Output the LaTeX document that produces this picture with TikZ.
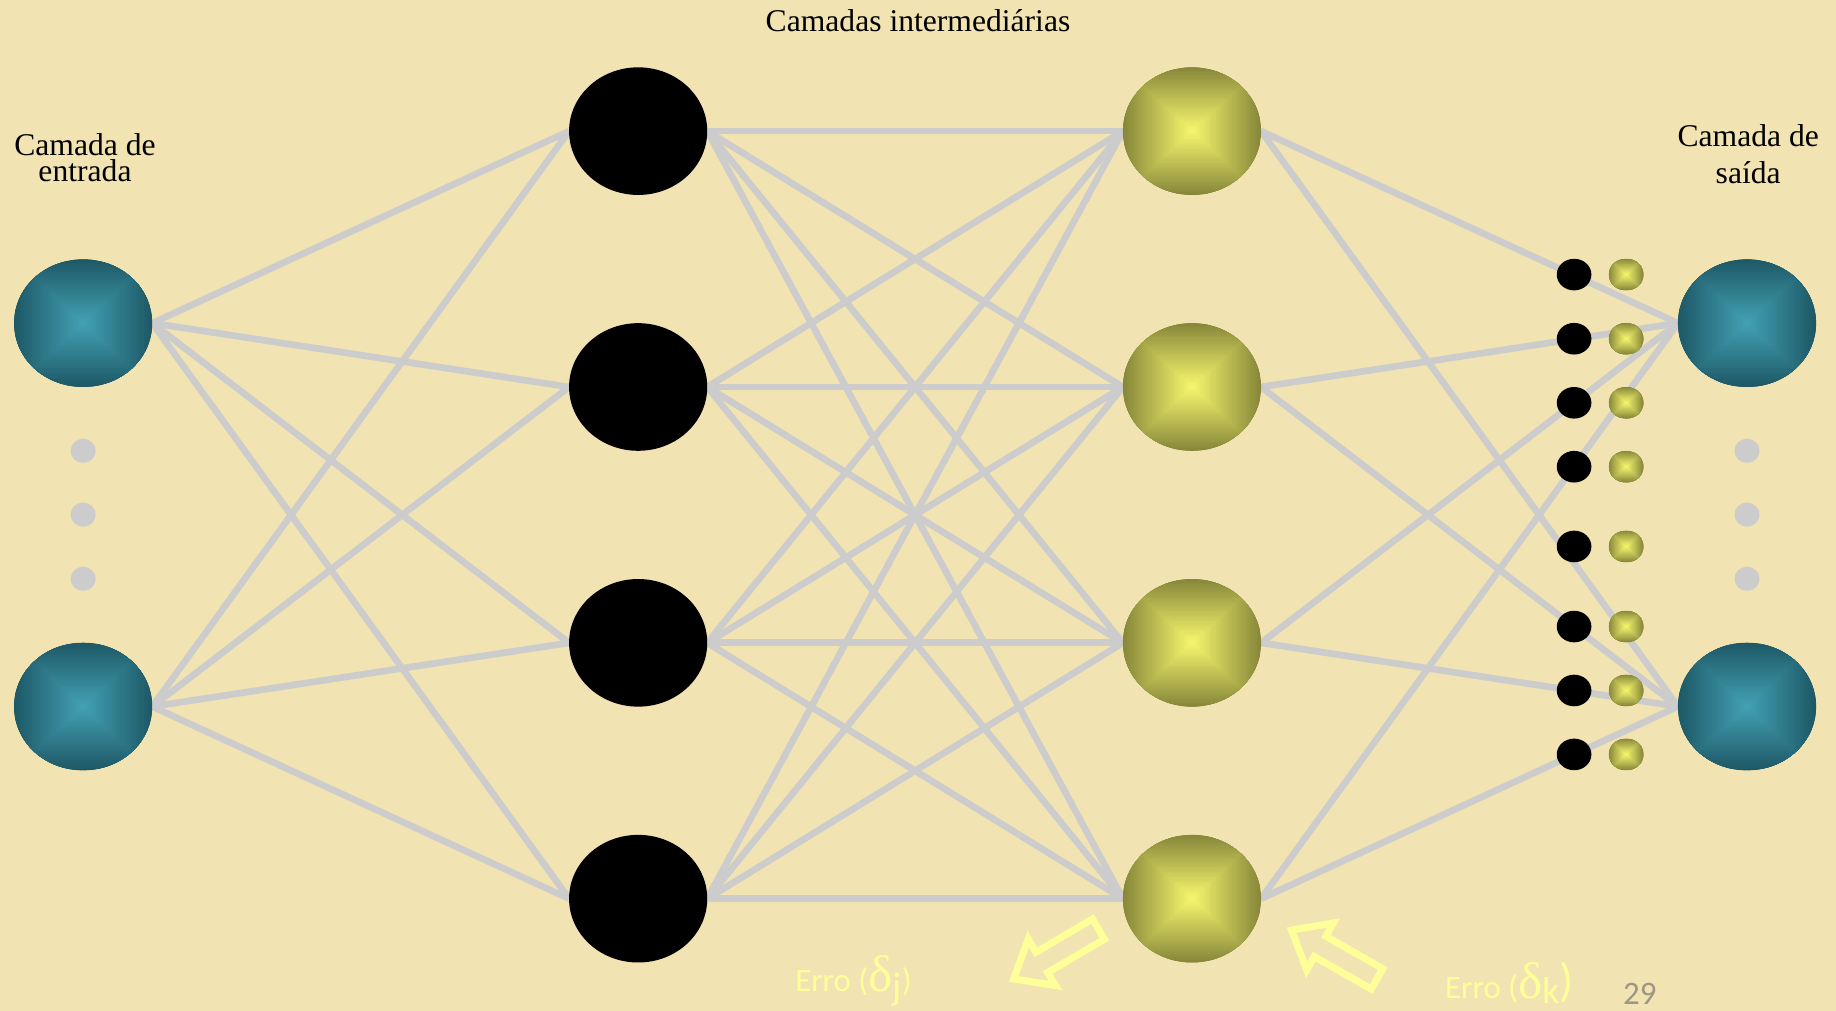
\documentclass[tikz,border=0pt]{standalone}
\usepackage{fontspec}
\setmainfont{Liberation Serif}
\newfontfamily\calfont{Carlito}
\usetikzlibrary{shapes.geometric,calc}
\definecolor{bgc}{RGB}{242,227,178}
\definecolor{linec}{RGB}{204,204,204}
\definecolor{tealE}{RGB}{30,88,102}
\definecolor{tealC}{RGB}{66,162,180}
\definecolor{yelE}{RGB}{135,135,58}
\definecolor{yelC}{RGB}{248,248,110}
\definecolor{errc}{RGB}{255,255,153}
\definecolor{pgc}{RGB}{158,150,132}
\pgfdeclarelayer{back}
\pgfdeclarelayer{links}
\pgfsetlayers{back,links,main}
\tikzset{
  boxshade/.style 2 args={path picture={
    \foreach \k [evaluate=\k as \p using {int(100-2*\k)}, evaluate=\k as \t using {\k/50}] in {50,49,...,1} {
      \fill[#2!\p!#1] ($(path picture bounding box.center)!\t!(path picture bounding box.north east)$) rectangle ($(path picture bounding box.center)!\t!(path picture bounding box.south west)$);
    }
  }},
  big/.style={ellipse, minimum width=118pt, minimum height=109pt, inner sep=0pt, outer sep=0pt},
  small/.style={ellipse, minimum width=29.6pt, minimum height=27pt, inner sep=0pt, outer sep=0pt},
  greydot/.style={ellipse, minimum width=21.4pt, minimum height=20.6pt, inner sep=0pt, outer sep=0pt, fill=linec},
  tealball/.style={fill=tealE, boxshade={tealE}{tealC}},
  yelball/.style={fill=yelE, boxshade={yelE}{yelC}},
  blackball/.style={fill=black},
  link/.style={draw=linec, line width=5.7pt},
  lbl/.style={inner sep=0pt, font=\fontsize{27}{30}\selectfont},
  errarrow/.style={draw=errc, line width=6pt, line join=miter},
  errtxt/.style={inner sep=0pt, text=errc, font=\calfont\fontsize{28}{30}\selectfont},
}
\begin{document}
\begin{tikzpicture}[x=1pt,y=1pt]
\useasboundingbox (0,0) rectangle (1568,863);
\begin{pgfonlayer}{back}
\fill[bgc] (0,0) rectangle (1568,863);
\end{pgfonlayer}

% big nodes
\node[big,tealball] (in1) at (71,587) {};
\node[big,tealball] (in2) at (71,259.6) {};
\node[big,blackball] (ha1) at (545,751) {};
\node[big,blackball] (ha2) at (545,532.5) {};
\node[big,blackball] (ha3) at (545,314) {};
\node[big,blackball] (ha4) at (545,95.5) {};
\node[big,yelball] (hb1) at (1018,751) {};
\node[big,yelball] (hb2) at (1018,532.5) {};
\node[big,yelball] (hb3) at (1018,314) {};
\node[big,yelball] (hb4) at (1018,95.5) {};
\node[big,tealball] (out1) at (1492,587) {};
\node[big,tealball] (out2) at (1492,259.6) {};

% ellipsis dots
\node[greydot] (gl1) at (71,478) {};
\node[greydot] (gl2) at (71,423.5) {};
\node[greydot] (gl3) at (71,368.7) {};
\node[greydot] (gr1) at (1492,478) {};
\node[greydot] (gr2) at (1492,423.5) {};
\node[greydot] (gr3) at (1492,368.7) {};

% small dots
\foreach \y [count=\k] in {628.5,573.7,519,464.4,396.3,327.9,273.3,218.7} {
  \node[small,blackball] (sb\k) at (1344.3,\y) {};
  \node[small,yelball] (sy\k) at (1388.8,\y) {};
}

% links
\begin{pgfonlayer}{links}
\foreach \i in {1,2} \foreach \j in {1,...,4} \draw[link] (in\i.east) -- (ha\j.west);
\foreach \i in {1,...,4} \foreach \j in {1,...,4} \draw[link] (ha\i.east) -- (hb\j.west);
\foreach \i in {1,...,4} \foreach \j in {1,2} \draw[link] (hb\i.east) -- (out\j.west);
\end{pgfonlayer}

% labels
\node[lbl, anchor=base] (title) at (784,836) {Camadas intermediárias};
\node[lbl, anchor=base] (ent1) at (72.6,730.6) {Camada de};
\node[lbl, anchor=base] (ent2) at (72.6,707.6) {entrada};
\node[lbl, anchor=base] (sai1) at (1493,737.7) {Camada de};
\node[lbl, anchor=base] (sai2) at (1493,706.5) {saída};

% error arrows
\draw[errarrow, shift={(938.1,69.5)}, rotate=210.4] (0,10) -- (56,10) -- (56,23) -- (84,0) -- (56,-23) -- (56,-10) -- (0,-10) -- cycle;
\draw[errarrow, shift={(1176,27)}, rotate=150.3] (0,10) -- (56,10) -- (56,23) -- (84,0) -- (56,-23) -- (56,-10) -- (0,-10) -- cycle;

\node[errtxt, anchor=base west] (errj) at (679,16) {Erro ({\fontsize{44}{44}\selectfont\rmfamily δ}\raisebox{-7pt}{\fontsize{33}{33}\selectfont j})};
\node[errtxt, anchor=base west] (errk) at (1234,10) {Erro ({\fontsize{44}{44}\selectfont\rmfamily δ}\raisebox{-4pt}{\fontsize{32}{32}\selectfont k}\raisebox{2pt}{\fontsize{40}{40}\selectfont )}};
\node[anchor=base west, inner sep=0pt, text=pgc, font=\calfont\fontsize{28}{30}\selectfont] (pgnum) at (1386,5) {29};
\end{tikzpicture}
\end{document}
